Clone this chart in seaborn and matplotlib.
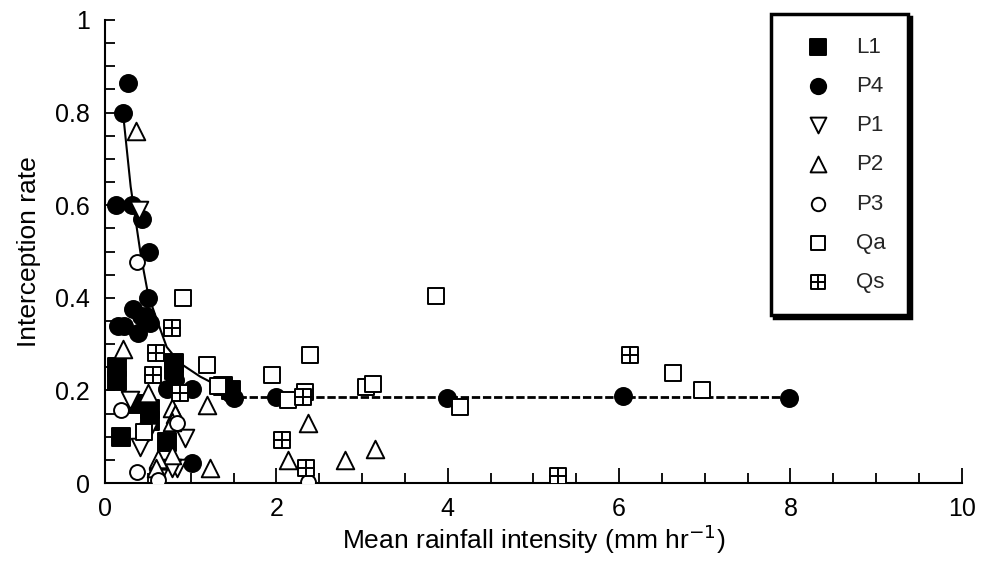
import numpy as np
import pandas as pd
import matplotlib
matplotlib.use("Agg")
import matplotlib.pyplot as plt
from matplotlib.path import Path
import seaborn as sns

# ---- data ----
L1_x = [0.14, 0.14, 0.19, 0.37, 0.525, 0.53, 0.72, 0.80, 0.80, 1.38, 1.47]
L1_y = [0.25, 0.22, 0.10, 0.17, 0.16, 0.135, 0.089, 0.26, 0.245, 0.21, 0.20]

P4_x = [0.265, 0.21, 0.13, 0.31, 0.435, 0.51, 0.505, 0.33, 0.15, 0.22, 0.42, 0.48,
        0.52, 0.38, 0.82, 0.72, 1.01, 1.46, 1.50, 2.0, 3.99, 6.05, 7.98, 1.01]
P4_y = [0.865, 0.80, 0.60, 0.60, 0.57, 0.50, 0.40, 0.375, 0.34, 0.34, 0.36, 0.36,
        0.345, 0.325, 0.222, 0.204, 0.204, 0.194, 0.183, 0.186, 0.183, 0.188, 0.184, 0.043]

P1_x = [0.40, 0.29, 0.505, 0.41, 0.93, 0.84, 0.78, 0.62]
P1_y = [0.59, 0.179, 0.111, 0.078, 0.097, 0.032, 0.032, 0.012]

P2_x = [0.36, 0.21, 0.505, 0.78, 0.82, 0.78, 1.19, 0.78, 0.62, 0.60, 1.22, 2.37, 2.14, 2.80, 3.15]
P2_y = [0.76, 0.29, 0.194, 0.162, 0.15, 0.132, 0.168, 0.06, 0.053, 0.032, 0.032, 0.129, 0.05, 0.05, 0.073]

P3_x = [0.37, 0.19, 0.84, 0.37, 0.62, 2.37]
P3_y = [0.478, 0.158, 0.13, 0.024, 0.006, 0.003]

Qa_x = [0.91, 1.19, 1.32, 0.45, 2.39, 1.95, 2.14, 2.33, 3.05, 3.13, 3.86, 4.14, 6.63, 6.97]
Qa_y = [0.40, 0.255, 0.21, 0.11, 0.276, 0.233, 0.18, 0.197, 0.208, 0.215, 0.404, 0.165, 0.237, 0.20]

Qs_x = [0.78, 0.60, 0.56, 0.875, 2.31, 2.07, 2.35, 5.29, 6.13]
Qs_y = [0.334, 0.28, 0.233, 0.194, 0.186, 0.093, 0.032, 0.015, 0.276]

fit_x = [0.21, 0.30, 0.42, 0.505, 0.62, 0.72, 0.875, 1.11, 1.34, 1.55]
fit_y = [0.80, 0.64, 0.49, 0.406, 0.345, 0.294, 0.259, 0.23, 0.208, 0.186]
flat_x = [1.55, 8.0]
flat_y = [0.185, 0.185]

# ---- figure ----
sns.set_theme(style="ticks")
plt.rcParams['font.family'] = ['Liberation Sans', 'DejaVu Sans']

fig = plt.figure(figsize=(9.81, 5.71), dpi=100)
ax = fig.add_axes([0.107, 0.154, 0.8735, 0.811])

# Qs marker: square with inner cross (田)
qs_marker = Path(
    [(-1, -1), (1, -1), (1, 1), (-1, 1), (-1, -1),
     (0, -1.12), (0, 1.12), (-1.12, 0), (1.12, 0)],
    [Path.MOVETO, Path.LINETO, Path.LINETO, Path.LINETO, Path.CLOSEPOLY,
     Path.MOVETO, Path.LINETO, Path.MOVETO, Path.LINETO])

series = [
    ("L1", L1_x, L1_y, "s", "black", 150),
    ("P4", P4_x, P4_y, "o", "black", 150),
    ("P1", P1_x, P1_y, "v", "white", 160),
    ("P2", P2_x, P2_y, "^", "white", 160),
    ("P3", P3_x, P3_y, "o", "white", 115),
    ("Qa", Qa_x, Qa_y, "s", "white", 130),
    ("Qs", Qs_x, Qs_y, qs_marker, "white", 150),
]

# fitted curve
sns.lineplot(x=fit_x, y=fit_y, ax=ax, color="black", linewidth=1.5, sort=False, zorder=1)
ax.plot(flat_x, flat_y, color="black", linewidth=2.0, linestyle=(0, (3, 1)), zorder=1)

for name, xs, ys, mk, fc, s in series:
    df = pd.DataFrame({"x": xs, "y": ys})
    sns.scatterplot(data=df, x="x", y="y", ax=ax, marker=mk, s=s,
                    facecolor=fc, edgecolor="black", linewidth=1.4,
                    label=name, legend=False, zorder=3)

ax.set_xlim(0, 10)
ax.set_ylim(0, 1)
ax.set_xticks([0, 2, 4, 6, 8, 10])
ax.set_xticklabels(["0", "2", "4", "6", "8", "10"])
ax.set_xticks(np.arange(0, 10.01, 0.5), minor=True)
ax.set_yticks([0, 0.2, 0.4, 0.6, 0.8, 1.0])
ax.set_yticklabels(["0", "0.2", "0.4", "0.6", "0.8", "1"])
ax.set_yticks(np.arange(0, 1.001, 0.05), minor=True)

ax.tick_params(axis="both", which="both", direction="in", color="black", width=1.3,
               labelsize=18, labelcolor="black")
ax.tick_params(axis="x", which="major", length=11, pad=10)
ax.tick_params(axis="x", which="minor", length=7)
ax.tick_params(axis="y", which="major", length=7, pad=11)
ax.tick_params(axis="y", which="minor", length=7)

for sp in ["top", "right"]:
    ax.spines[sp].set_visible(False)
for sp in ["left", "bottom"]:
    ax.spines[sp].set_linewidth(1.5)
    ax.spines[sp].set_color("black")

ax.set_xlabel("Mean rainfall intensity (mm hr$^{-1}$)", fontsize=19, color="black", labelpad=1)
ax.set_ylabel("Interception rate", fontsize=19, color="black", labelpad=10)

leg = ax.legend(loc="upper right", bbox_to_anchor=(0.937, 1.012), frameon=True,
                fancybox=False, edgecolor="black", framealpha=1,
                shadow={"color": "black", "alpha": 1}, fontsize=16,
                markerscale=0.9, labelspacing=0.82, borderpad=1.0,
                handlelength=2.2, handletextpad=0.6, borderaxespad=0)
leg.get_frame().set_linewidth(2.5)
leg.set_zorder(5)

fig.savefig("out.png", dpi=100)
